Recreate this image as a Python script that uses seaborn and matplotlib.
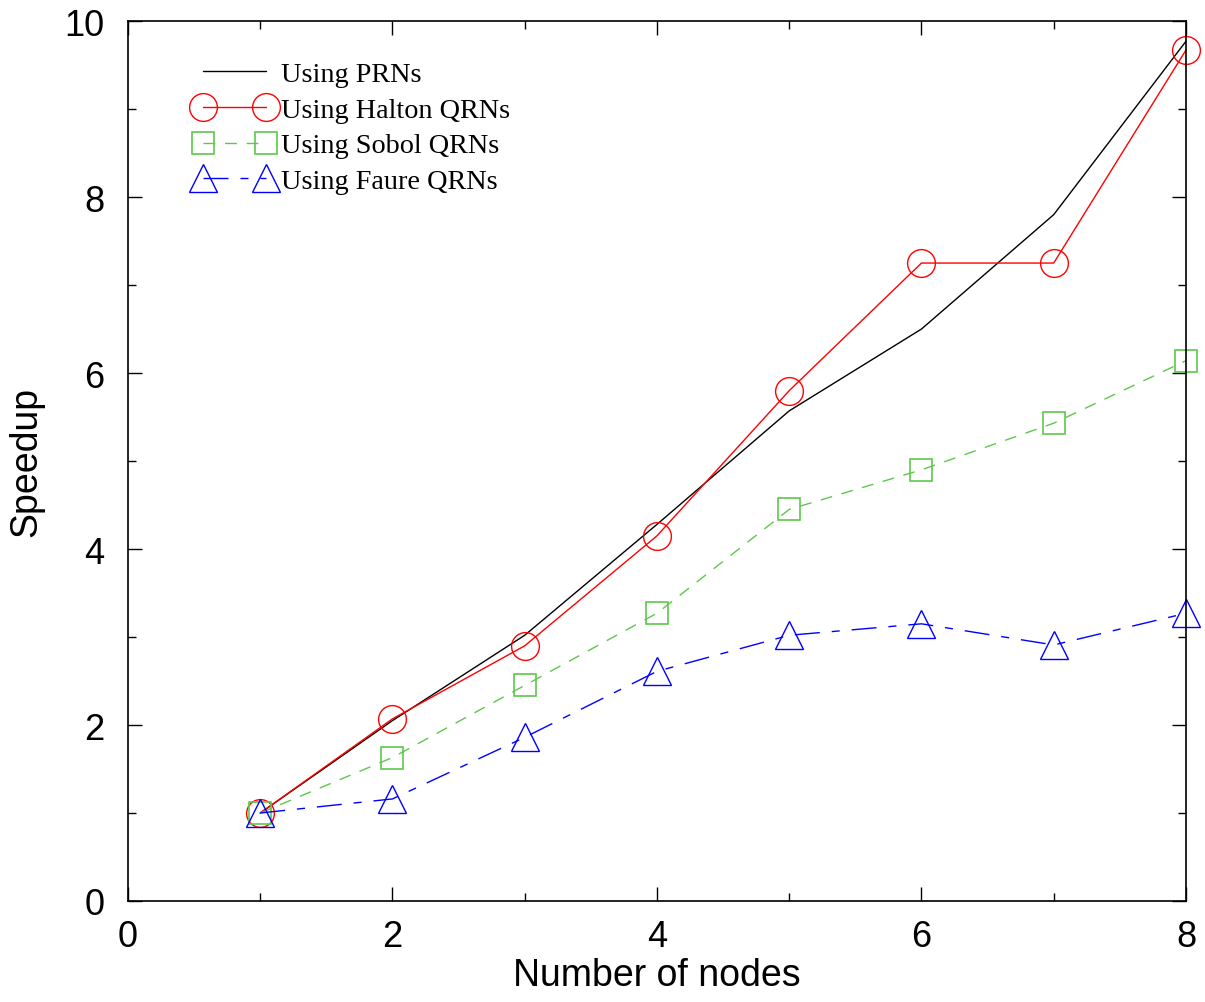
import pandas as pd
import seaborn as sns
import matplotlib.pyplot as plt
from matplotlib.ticker import MultipleLocator
from matplotlib.lines import Line2D
from matplotlib.legend_handler import HandlerLine2D

nodes = [1, 2, 3, 4, 5, 6, 7, 8]
prn = [1.0, 2.05, 3.02, 4.28, 5.57, 6.5, 7.8, 9.77]
halton = [1.0, 2.07, 2.9, 4.15, 5.8, 7.25, 7.25, 9.67]
sobol = [1.0, 1.63, 2.45, 3.27, 4.45, 4.9, 5.43, 6.14]
faure = [1.0, 1.16, 1.86, 2.61, 3.02, 3.15, 2.91, 3.27]

df = pd.DataFrame({"nodes": nodes, "prn": prn, "halton": halton,
                   "sobol": sobol, "faure": faure})

sns.set_style("ticks")
plt.rcParams['font.family'] = ['Liberation Sans', 'DejaVu Sans']
plt.rcParams['text.color'] = 'black'
plt.rcParams['axes.labelcolor'] = 'black'

fig = plt.figure(figsize=(12.05, 10.03), dpi=100)
ax = fig.add_axes([0.1062, 0.1007, 0.878, 0.8773])

green = "#5cc84a"

sns.lineplot(data=df, x="nodes", y="prn", ax=ax, color="black", lw=1,
             label="Using PRNs", clip_on=False)
sns.lineplot(data=df, x="nodes", y="halton", ax=ax, color="#ff0000", lw=1,
             marker="o", markersize=20, markerfacecolor="none",
             markeredgecolor="#ff0000", markeredgewidth=1,
             label="Using Halton QRNs", clip_on=False)
sns.lineplot(data=df, x="nodes", y="sobol", ax=ax, color=green, lw=1,
             linestyle=(0, (8.5, 7)), marker="s", markersize=16,
             markerfacecolor="none", markeredgecolor=green,
             markeredgewidth=1.2, label="Using Sobol QRNs", clip_on=False)
sns.lineplot(data=df, x="nodes", y="faure", ax=ax, color="#0000ff", lw=1,
             linestyle=(0, (18, 8.6, 5.8, 8.6)), marker="^", markersize=19.5,
             markerfacecolor="none", markeredgecolor="#0000ff",
             markeredgewidth=1, label="Using Faure QRNs", clip_on=False)

ax.set_xlim(0, 8)
ax.set_ylim(0, 10)
ax.xaxis.set_major_locator(MultipleLocator(2))
ax.xaxis.set_minor_locator(MultipleLocator(1))
ax.yaxis.set_major_locator(MultipleLocator(2))
ax.yaxis.set_minor_locator(MultipleLocator(1))
ax.tick_params(which="both", direction="in", top=True, right=True,
               labelsize=26, colors="black", width=1)
ax.tick_params(which="major", length=10)
ax.tick_params(which="minor", length=6)
ax.tick_params(axis="y", which="major", pad=17)
ax.tick_params(axis="x", which="major", pad=13)
for s in ax.spines.values():
    s.set_linewidth(1.2)
    s.set_color("black")

ax.set_xlabel("Number of nodes", fontsize=27, labelpad=2)
ax.set_ylabel("Speedup", fontsize=27, labelpad=14)

leg = ax.legend(loc="upper left", bbox_to_anchor=(0.0709, 0.954), frameon=False,
                numpoints=2, handlelength=2.23, handletextpad=0.53,
                borderpad=0, borderaxespad=0, labelspacing=0.35,
                handler_map={Line2D: HandlerLine2D(marker_pad=0)},
                prop={"family": "Liberation Serif", "size": 20.3})

plt.savefig("out.png", dpi=100)
